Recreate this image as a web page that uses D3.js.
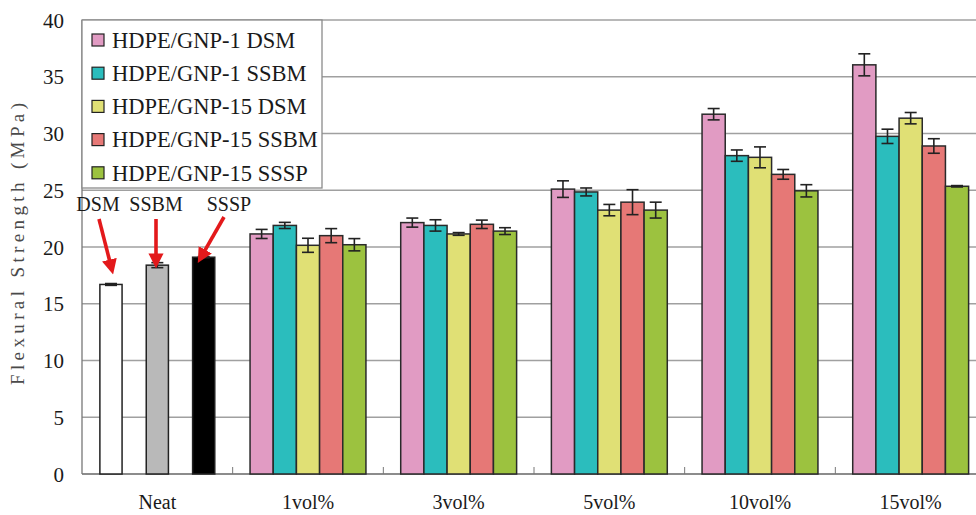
<!DOCTYPE html>
<html>
<head>
<meta charset="utf-8">
<script src="https://cdn.jsdelivr.net/npm/d3@7"></script>
<style>
  body { margin: 0; background: #fff; }
</style>
</head>
<body>
<div id="chart"></div>
<script>
var width = 976,
    height = 515;

// categories on the x axis
const categories = ["Neat", "1vol%", "3vol%", "5vol%", "10vol%", "15vol%"];

// neat polymer bars (sit in slots 0, 2, 4 of the Neat group)
const neatNames = ["DSM", "SSBM", "SSSP"];
const neatValues = [16.7, 18.4, 19.1];
const neatErrors = [0.08, 0.22, 0.05];
const neatFill = ["#ffffff", "#b9b9b9", "#000000"];

// composite series
const seriesNames = ["HDPE/GNP-1 DSM", "HDPE/GNP-1 SSBM", "HDPE/GNP-15 DSM", "HDPE/GNP-15 SSBM", "HDPE/GNP-15 SSSP"];
const seriesColors = ["#e19bc3", "#2bbdbd", "#e0e075", "#e67876", "#9cc23f"];
const loadings = ["1vol%", "3vol%", "5vol%", "10vol%", "15vol%"];
const gnp1DSM = [21.15, 22.15, 25.1, 31.7, 36.05];
const gnp1SSBM = [21.9, 21.9, 24.85, 28.05, 29.75];
const gnp15DSM = [20.15, 21.15, 23.25, 27.9, 31.35];
const gnp15SSBM = [21.0, 22.0, 23.95, 26.4, 28.9];
const gnp15SSSP = [20.2, 21.4, 23.25, 24.95, 25.35];
const gnp1DSMErr = [0.4, 0.4, 0.73, 0.5, 0.97];
const gnp1SSBMErr = [0.27, 0.5, 0.35, 0.5, 0.63];
const gnp15DSMErr = [0.62, 0.12, 0.5, 0.92, 0.5];
const gnp15SSBMErr = [0.62, 0.37, 1.1, 0.43, 0.64];
const gnp15SSSPErr = [0.54, 0.3, 0.7, 0.54, 0.06];

const yTicks = [0, 5, 10, 15, 20, 25, 30, 35, 40];

const seriesValues = [gnp1DSM, gnp1SSBM, gnp15DSM, gnp15SSBM, gnp15SSSP];
const seriesErrors = [gnp1DSMErr, gnp1SSBMErr, gnp15DSMErr, gnp15SSBMErr, gnp15SSSPErr];

var serif = "'Liberation Serif', 'Times New Roman', Tinos, 'DejaVu Serif', serif";

var margin = { left: 82, top: 20, right: -10, bottom: 41 };

var svg = d3.select("#chart")
    .append("svg")
    .attr("width", width)
    .attr("height", height)
    .attr("font-family", serif)
    .style("font-family", serif);

var x = d3.scaleBand()
    .domain(categories)
    .range([margin.left, width - margin.right])
    .padding(0);

var slot = d3.scaleBand()
    .domain([0, 1, 2, 3, 4])
    .range([0, x.bandwidth()])
    .paddingInner(0)
    .paddingOuter(0.75);

var y = d3.scaleLinear()
    .domain([0, 40])
    .range([height - margin.bottom, margin.top]);

// gridlines
svg.append("g")
    .selectAll("line")
    .data(yTicks)
    .join("line")
    .attr("x1", margin.left)
    .attr("x2", width)
    .attr("y1", d => y(d))
    .attr("y2", d => y(d))
    .attr("stroke", d => d == 0 ? "#666" : "#a0a0a0")
    .attr("stroke-width", 1.3);

// y axis line
svg.append("line")
    .attr("x1", margin.left).attr("x2", margin.left)
    .attr("y1", y(0)).attr("y2", y(40))
    .attr("stroke", "#777")
    .attr("stroke-width", 1.3);

// y tick labels
svg.append("g")
    .selectAll("text")
    .data(yTicks)
    .join("text")
    .attr("x", 64)
    .attr("y", d => y(d))
    .attr("dy", "0.36em")
    .attr("text-anchor", "end")
    .attr("font-size", "21px")
    .attr("fill", "#1a1a1a")
    .text(d => d);

// x category boundary ticks (inside)
svg.append("g")
    .selectAll("line")
    .data(categories.slice(1))
    .join("line")
    .attr("x1", d => x(d))
    .attr("x2", d => x(d))
    .attr("y1", y(0))
    .attr("y2", y(0) - 7)
    .attr("stroke", "#777");

// x labels
svg.append("g")
    .selectAll("text")
    .data(categories)
    .join("text")
    .attr("x", d => x(d) + x.bandwidth() / 2)
    .attr("y", 509)
    .attr("text-anchor", "middle")
    .attr("font-size", "20px")
    .attr("fill", "#1a1a1a")
    .text(d => d);

// y title
svg.append("text")
    .attr("transform", "translate(24,244) rotate(-90)")
    .attr("text-anchor", "middle")
    .attr("font-size", "19px")
    .attr("textLength", 282)
    .attr("lengthAdjust", "spacing")
    .attr("fill", "#4a4a4a")
    .text("Flexural Strength (MPa)");

function errorBar(g, cx, v, e) {
    g.append("line")
        .attr("x1", cx).attr("x2", cx)
        .attr("y1", y(v + e)).attr("y2", y(v - e))
        .attr("stroke", "#222").attr("stroke-width", 1.6);
    [v + e, v - e].forEach(function (t) {
        g.append("line")
            .attr("x1", cx - 6).attr("x2", cx + 6)
            .attr("y1", y(t)).attr("y2", y(t))
            .attr("stroke", "#222").attr("stroke-width", 1.6);
    });
}

// neat bars
var neatG = svg.append("g");
const neatSlot = [0, 2, 4];
neatValues.forEach(function (v, i) {
    var bx = x("Neat") + slot(neatSlot[i]) + 0.5;
    neatG.append("rect")
        .attr("x", bx)
        .attr("y", y(v))
        .attr("width", slot.bandwidth() - 1)
        .attr("height", y(0) - y(v))
        .attr("fill", neatFill[i])
        .attr("stroke", "#222")
        .attr("stroke-width", 1.5);
    errorBar(neatG, bx + (slot.bandwidth() - 1) / 2, v, neatErrors[i]);
});

// composite bars
var barG = svg.append("g");
seriesValues.forEach(function (vals, s) {
    vals.forEach(function (v, j) {
        var bx = x(loadings[j]) + slot(s);
        barG.append("rect")
            .attr("x", bx)
            .attr("y", y(v))
            .attr("width", slot.bandwidth())
            .attr("height", y(0) - y(v))
            .attr("fill", seriesColors[s])
            .attr("stroke", "#2a2a2a")
            .attr("stroke-width", 1.5);
    });
});
seriesValues.forEach(function (vals, s) {
    vals.forEach(function (v, j) {
        errorBar(barG, x(loadings[j]) + slot(s) + slot.bandwidth() / 2, v, seriesErrors[s][j]);
    });
});

// legend
var legend = svg.append("g");
legend.append("rect")
    .attr("x", margin.left)
    .attr("y", margin.top)
    .attr("width", 240)
    .attr("height", 168)
    .attr("fill", "#fff")
    .attr("stroke", "#8a8a8a")
    .attr("stroke-width", 1.3);

var rows = legend.selectAll("g.row")
    .data(seriesNames)
    .join("g")
    .attr("class", "row")
    .attr("transform", (d, i) => "translate(92," + (40 + i * 33.2) + ")");

rows.append("rect")
    .attr("x", 0).attr("y", -6)
    .attr("width", 12).attr("height", 12)
    .attr("fill", (d, i) => seriesColors[i])
    .attr("stroke", "#222")
    .attr("stroke-width", 1.2);

rows.append("text")
    .attr("x", 20)
    .attr("dy", "0.35em")
    .attr("font-size", "22.5px")
    .attr("fill", "#1a1a1a")
    .text(d => d);

// neat annotations with red arrows
const annotX = [98, 156, 229];
const arrowFrom = [[99, 219], [156, 219], [224, 217]];
const arrowTo = [[112, 270], [156, 264], [200, 259]];

svg.append("defs").append("marker")
    .attr("id", "head")
    .attr("viewBox", "0 0 10 10")
    .attr("refX", 7).attr("refY", 5)
    .attr("markerWidth", 4.2).attr("markerHeight", 4.2)
    .attr("orient", "auto")
    .append("path")
    .attr("d", "M0,0L10,5L0,10z")
    .attr("fill", "#e3191b");

var ann = svg.append("g");
neatNames.forEach(function (n, i) {
    ann.append("text")
        .attr("x", annotX[i])
        .attr("y", 211)
        .attr("text-anchor", "middle")
        .attr("font-size", "20px")
        .attr("fill", "#1a1a1a")
        .text(n);
    ann.append("line")
        .attr("x1", arrowFrom[i][0]).attr("y1", arrowFrom[i][1])
        .attr("x2", arrowTo[i][0]).attr("y2", arrowTo[i][1])
        .attr("stroke", "#e3191b")
        .attr("stroke-width", 3.6)
        .attr("marker-end", "url(#head)");
});
</script>
</body>
</html>
